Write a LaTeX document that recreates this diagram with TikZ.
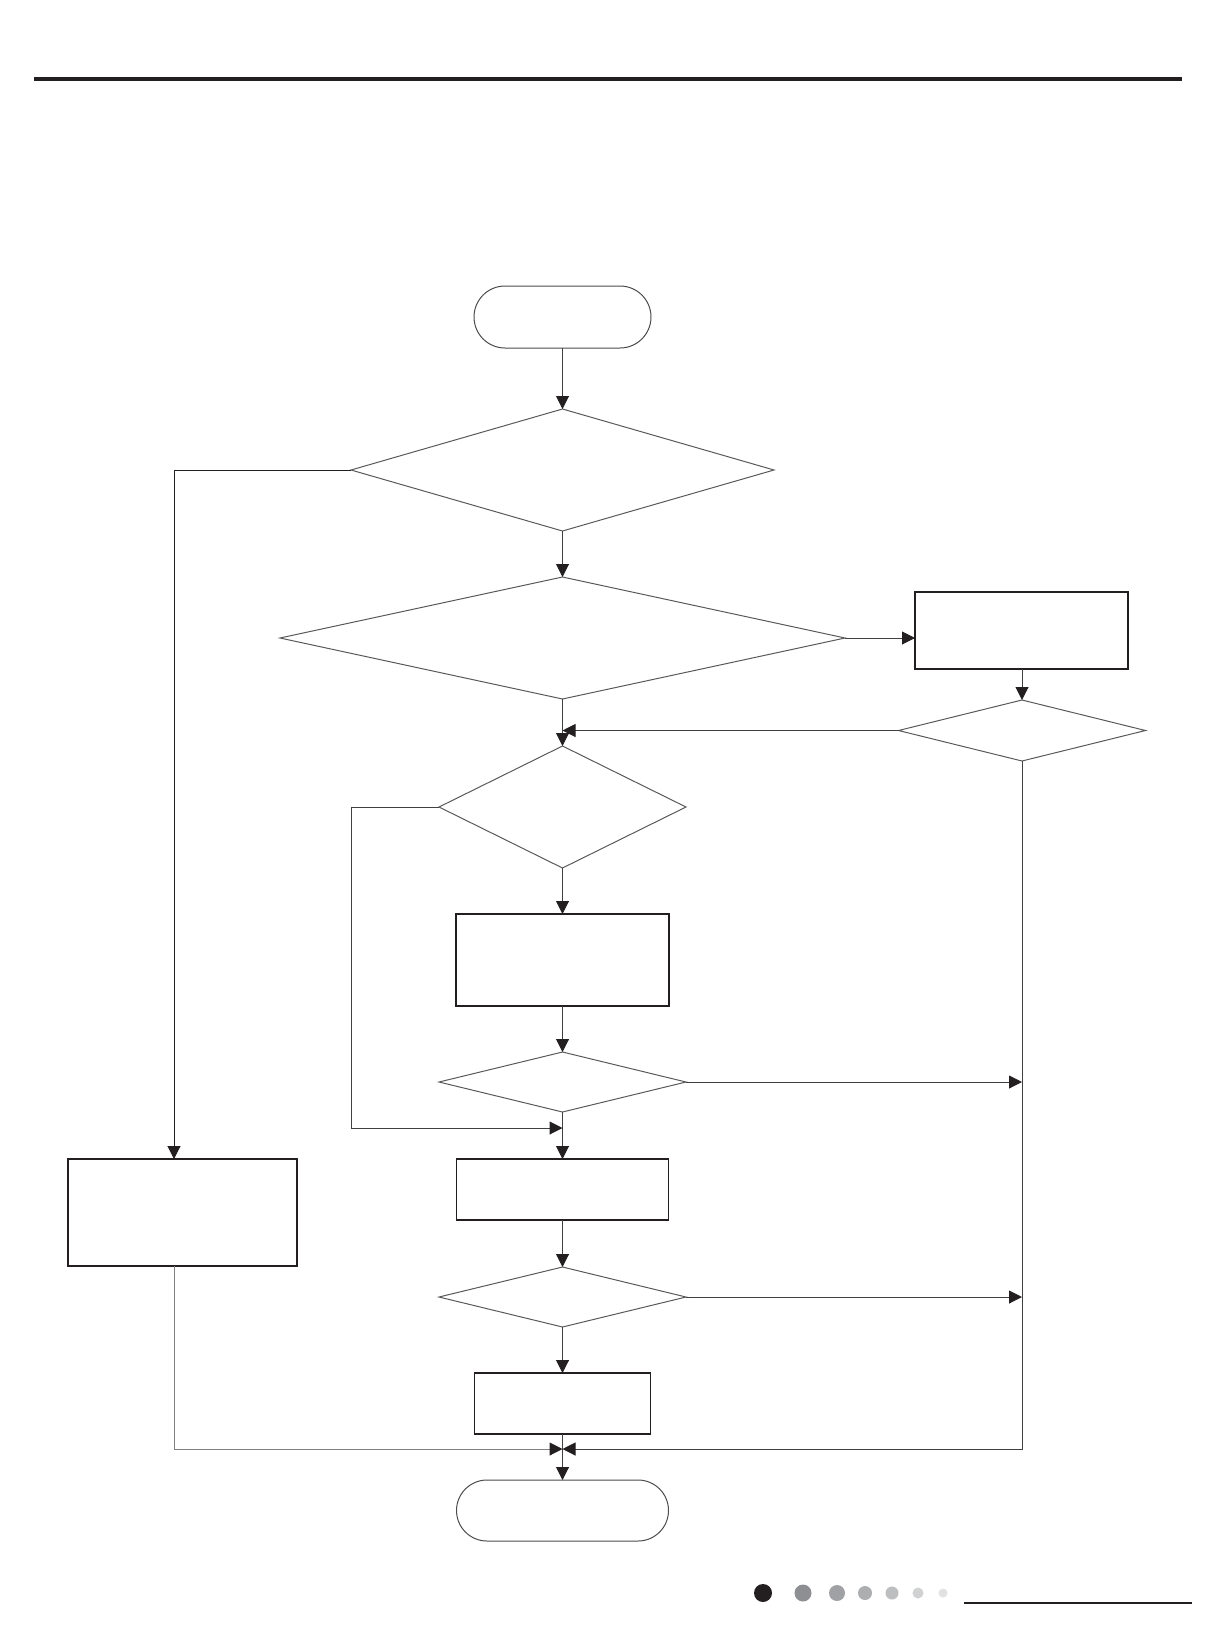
\documentclass[tikz,border=0pt]{standalone}
\usepackage{tikz}
\usetikzlibrary{calc, arrows.meta, shapes.geometric}

\definecolor{ink}{HTML}{231F20}

\begin{document}
\begin{tikzpicture}[x=0.5pt, y=-0.5pt, line width=0.5pt, >={Triangle[length=6.5pt, width=6.5pt, color=ink]},
    every node/.style={inner sep=0pt, outer sep=0pt},
    term/.style={draw=black!70, rectangle, rounded corners=15.25pt, minimum width=106pt, minimum height=30.5pt},
    proc/.style={draw=ink, line width=0.55pt, rectangle},
    test/.style={draw=black!65, diamond, minimum width=123.5pt, minimum height=30pt},
    link/.style={draw=black!75, ->}]
    \useasboundingbox (0, 0) rectangle (1213, 1644);
    %% page rules
    \draw[ink, line width=2pt] (34, 79) -- (1182, 79);
    \draw[ink, line width=1pt] (964, 1603) -- (1192, 1603);
    \foreach \xpos/\rad/\shade in {763/4.5/231F20, 803/4.25/8E8F93, 837/4/A0A1A4, 865/3.5/ADAEB0, 892/3.25/BDBEC0, 918/2.75/D0D1D2, 943/2.25/E0E1E2} {
      \definecolor{dotfill}{HTML}{\shade}
      \fill[dotfill] (\xpos, 1593) circle [radius=\rad pt];
    }
    %% shapes
    \node[term, minimum width=88.5pt, minimum height=31pt, rounded corners=15.5pt] (start) at (562.5, 317) {};
    \node[test, minimum width=211.5pt, minimum height=61pt] (chkA) at (562.5, 470) {};
    \node[test, minimum width=282.5pt, minimum height=61pt] (chkB) at (562.5, 638) {};
    \node[proc, minimum width=106.5pt, minimum height=38.5pt] (side) at (1021.5, 630.5) {};
    \node[test, minimum height=30.5pt] (chkS) at (1022, 730.5) {};
    \node[test, minimum height=61pt] (chkC) at (562.5, 807) {};
    \node[proc, minimum width=106.5pt, minimum height=46pt] (stepA) at (562.5, 960) {};
    \node[test] (chkD) at (562.5, 1082) {};
    \node[proc, minimum width=106pt, minimum height=30.5pt] (stepB) at (562.5, 1189.5) {};
    \node[test] (chkE) at (562.5, 1297) {};
    \node[proc, minimum width=88pt, minimum height=30.5pt] (stepC) at (562.5, 1403.5) {};
    \node[proc, minimum width=114.5pt, minimum height=53.5pt] (other) at (182.5, 1212.5) {};
    \node[term] (stop) at (562.5, 1510.5) {};
    %% bends
    \coordinate (lcol) at (174, 470);
    \coordinate (loop) at (351, 807);
    \coordinate (merge) at (562.5, 1449);
    \coordinate (rjoin) at (562.5, 1128);
    %% main column
    \draw[link] (start) -- (chkA);
    \draw[link] (chkA) -- (chkB);
    \draw[link] (chkB) -- (chkC);
    \draw[link] (chkC) -- (stepA);
    \draw[link] (stepA) -- (chkD);
    \draw[link] (chkD) -- (stepB);
    \draw[link] (stepB) -- (chkE);
    \draw[link] (chkE) -- (stepC);
    \draw[link] (stepC) -- (stop);
    %% right branch
    \draw[link] (chkB.east) -- (chkB.east -| side.west);
    \draw[link] (side.south -| chkS.north) -- (chkS.north);
    \draw[link] (chkS.west) -- (chkS.west -| chkC.north);
    \draw[link] (chkD.east) -- (chkD.east -| chkS.south);
    \draw[link] (chkE.east) -- (chkE.east -| chkS.south);
    \draw[link] (chkS.south) -- (chkS.south |- merge) -- (merge);
    %% left branches
    \draw[draw=ink, ->] (chkA.west) -- (lcol) -- (lcol |- other.north);
    \draw[draw=black!50, ->] (lcol |- other.south) -- (lcol |- merge) -- (merge);
    \draw[link] (chkC.west) -- (loop) -- (loop |- rjoin) -- (rjoin);
  \end{tikzpicture}
\end{document}
